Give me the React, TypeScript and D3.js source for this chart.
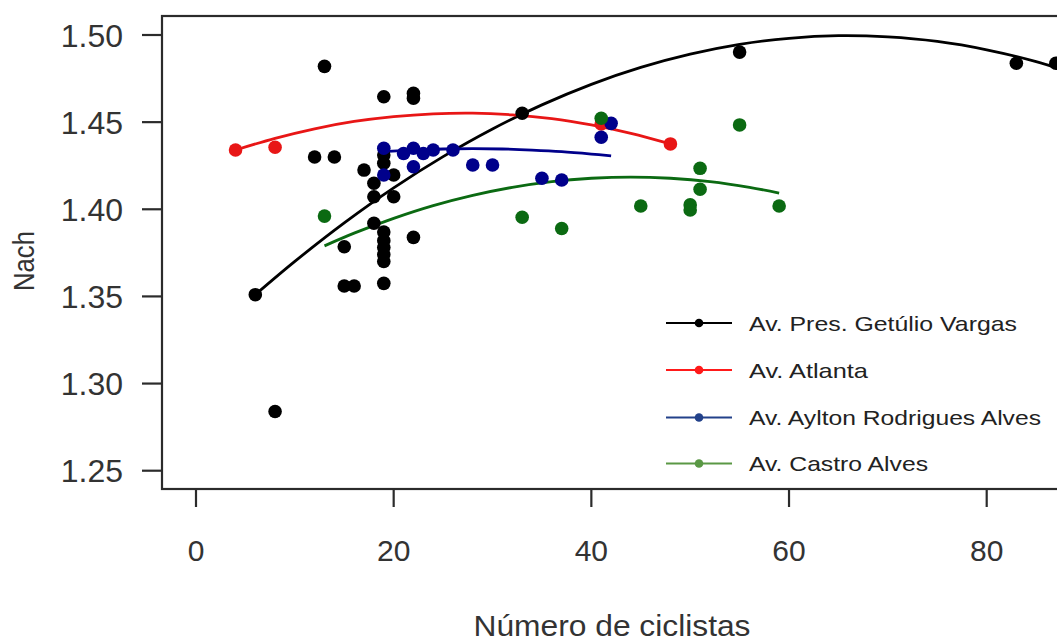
import React from "react";
import * as d3 from "d3";

// ---- data ----
const seriesNames = [
  "Av. Pres. Getúlio Vargas",
  "Av. Atlanta",
  "Av. Aylton Rodrigues  Alves",
  "Av. Castro Alves",
];
const seriesColors = ["#000000", "#e81616", "#00008b", "#0b6a12"];
const legendColors = ["#000000", "#ff1a1a", "#22418a", "#5a9845"];
const legendWidths = [268, 119, 292, 179];

// points: [ciclistas, Nach]
const vargasPts: [number, number][] = [
  [6, 1.351], [8, 1.284], [12, 1.430], [13, 1.482], [14, 1.430], [15, 1.3785],
  [15, 1.356], [16, 1.356], [17, 1.4225], [18, 1.4149], [18, 1.4072], [18, 1.392],
  [19, 1.4646], [19, 1.4311], [19, 1.4264], [19, 1.387], [19, 1.382], [19, 1.378],
  [19, 1.374], [19, 1.370], [19, 1.3575], [20, 1.4197], [20, 1.4072],
  [22, 1.4665], [22, 1.4637], [22, 1.3839], [33, 1.4551], [55, 1.4902],
  [83, 1.4838], [87, 1.4838],
];
const atlantaPts: [number, number][] = [
  [4, 1.434], [8, 1.4356], [41, 1.449], [48, 1.4375],
];
const ayltonPts: [number, number][] = [
  [19, 1.435], [19, 1.4197], [21, 1.432], [22, 1.435], [22, 1.4244], [23, 1.432],
  [24, 1.434], [26, 1.434], [28, 1.4254], [30, 1.4254], [35, 1.4178], [37, 1.4168],
  [41, 1.4413], [42, 1.4493],
];
const castroPts: [number, number][] = [
  [13, 1.3961], [33, 1.3954], [37, 1.389], [41, 1.4522], [45, 1.4019], [50, 1.4025],
  [50, 1.3996], [51, 1.4235], [51, 1.4115], [55, 1.4484], [59, 1.4019],
];

// fitted curves
const vargasCurve: [number, number][] = [
  [6, 1.351], [10, 1.3701], [15, 1.3922], [20, 1.4123], [25, 1.4302], [30, 1.4461],
  [35, 1.4599], [40, 1.4717], [45, 1.4814], [50, 1.489], [55, 1.4946], [60, 1.4981],
  [65, 1.4996], [70, 1.4989], [75, 1.4963], [80, 1.4915], [85, 1.4847], [90, 1.4758],
];
const atlantaCurve: [number, number][] = [
  [4, 1.434], [8, 1.4407], [12, 1.4462], [16, 1.4504], [20, 1.4532], [24, 1.4548],
  [28, 1.4552], [32, 1.4542], [36, 1.452], [40, 1.4484], [44, 1.4436], [48, 1.4375],
];
const ayltonCurve: [number, number][] = [
  [19, 1.4331], [22, 1.434], [25, 1.4346], [28, 1.4348], [31, 1.4346], [34, 1.434],
  [37, 1.4331], [40, 1.4317], [42, 1.4306],
];
const castroCurve: [number, number][] = [
  [13, 1.379], [16, 1.3863], [20, 1.3948], [24, 1.4021], [28, 1.408], [32, 1.4126],
  [36, 1.4159], [40, 1.4178], [44, 1.4185], [48, 1.4178], [52, 1.4159], [56, 1.4126],
  [59, 1.4093],
];

const xTicks = [0, 20, 40, 60, 80];
const yTicks = [1.25, 1.3, 1.35, 1.4, 1.45, 1.5];
const xTitle = "Número de ciclistas";
const yTitle = "Nach";

const allPoints = [vargasPts, atlantaPts, ayltonPts, castroPts];
const allCurves = [vargasCurve, atlantaCurve, ayltonCurve, castroCurve];

export default function App() {
  const W = 1057, H = 641;
  const x = d3.scaleLinear().domain([0, 80]).range([196, 986.7]);
  const y = d3.scaleLinear().domain([1.25, 1.5]).range([470.7, 35]);
  const boxL = 162, boxT = 16, boxB = 489, boxR = 1080;
  const line = d3
    .line<[number, number]>()
    .x((d) => x(d[0]))
    .y((d) => y(d[1]))
    .curve(d3.curveCatmullRom.alpha(0.5));
  const font = "Arial, 'Liberation Sans', sans-serif";
  const legendY = [323, 370, 417.5, 463.5];

  return (
    <div style={{ position: "absolute", left: 0, top: 0 }}>
      <svg width={W} height={H} style={{ display: "block", background: "#fff" }}>
        <rect x={0} y={0} width={W} height={H} fill="#fff" />
        {/* curves */}
        {allCurves.map((c, i) => (
          <path key={"c" + i} d={line(c) || ""} fill="none" stroke={seriesColors[i]} strokeWidth={2.8} />
        ))}
        {/* points */}
        {allPoints.map((pts, i) =>
          pts.map((p, j) => (
            <circle key={"p" + i + "-" + j} cx={x(p[0])} cy={y(p[1])} r={6.8} fill={seriesColors[i]} />
          ))
        )}
        {/* box */}
        <rect x={boxL} y={boxT} width={boxR - boxL} height={boxB - boxT} fill="none" stroke="#2b2b2b" strokeWidth={2.2} />
        {/* y axis */}
        {yTicks.map((t) => (
          <g key={"yt" + t}>
            <line x1={142} x2={boxL} y1={y(t)} y2={y(t)} stroke="#2b2b2b" strokeWidth={2.2} />
            <text x={123} y={y(t)} dy="0.36em" textAnchor="end" fontFamily={font} fontSize={32} fill="#333">
              {t.toFixed(2)}
            </text>
          </g>
        ))}
        {/* x axis */}
        {xTicks.map((t) => (
          <g key={"xt" + t}>
            <line x1={x(t)} x2={x(t)} y1={boxB} y2={507} stroke="#2b2b2b" strokeWidth={2.2} />
            <text x={x(t)} y={550} dy="0.36em" textAnchor="middle" fontFamily={font} fontSize={30} fill="#333">
              {t}
            </text>
          </g>
        ))}
        <text x={612} y={636} textAnchor="middle" fontFamily={font} fontSize={30} fill="#333" textLength={277} lengthAdjust="spacingAndGlyphs">
          {xTitle}
        </text>
        <text transform={`translate(34,261) rotate(-90)`} textAnchor="middle" fontFamily={font} fontSize={29} fill="#333" textLength={60} lengthAdjust="spacingAndGlyphs">
          {yTitle}
        </text>
        {/* legend */}
        {seriesNames.map((n, i) => (
          <g key={"lg" + i}>
            <line x1={666} x2={732} y1={legendY[i]} y2={legendY[i]} stroke={legendColors[i]} strokeWidth={2} />
            <circle cx={699} cy={legendY[i]} r={4.3} fill={legendColors[i]} />
            <text x={749} y={legendY[i]} dy="0.36em" fontFamily={font} fontSize={21} fill="#222" textLength={legendWidths[i]} lengthAdjust="spacingAndGlyphs">
              {n}
            </text>
          </g>
        ))}
      </svg>
    </div>
  );
}
